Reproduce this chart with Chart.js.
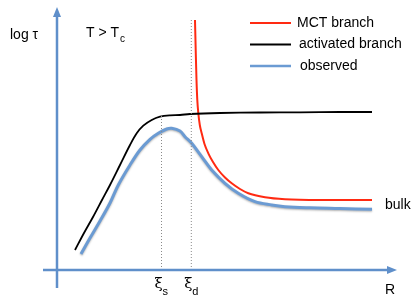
<html>
<head>
<style>
  body { margin: 0; background: #fff; }
</style>
</head>
<body>
<canvas id="myChart" width="415" height="301"></canvas>
<script src="https://cdn.jsdelivr.net/npm/chart.js"></script>
<script>
  // schematic: R along x, log tau along y (arbitrary units, origin where the axes cross)
  let activatedR   = [1.8, 2.7, 3.6, 4.5, 5.3, 6.3, 7.3, 7.97, 8.63, 9.47, 10.3, 11.3, 12.3, 13.3, 16.3, 20.3, 24.3, 28.3, 31.5];
  let activatedTau = [2.0, 3.7, 5.3, 7.0, 8.5, 10.5, 12.5, 13.67, 14.43, 15.0, 15.33, 15.47, 15.5, 15.6, 15.7, 15.75, 15.77, 15.8, 15.8];

  let observedR   = [2.4, 3.3, 4.3, 5.3, 6.13, 7.3, 8.3, 9.3, 10.13, 10.97, 11.47, 12.3, 12.8, 13.47, 14.47, 15.47, 16.8, 18.13, 19.8, 21.47, 22.8, 25.3, 28.3, 31.5];
  let observedTau = [1.6, 3.2, 4.9, 6.7, 8.5, 10.5, 12.0, 13.07, 13.67, 14.1, 14.17, 13.9, 13.33, 12.67, 11.33, 10.0, 8.67, 7.67, 6.83, 6.5, 6.33, 6.22, 6.15, 6.07];

  let mctR   = [13.8, 13.87, 13.95, 14.03, 14.13, 14.28, 14.47, 14.75, 15.13, 15.6, 16.13, 16.8, 17.47, 18.3, 19.13, 20.8, 22.8, 26.3, 31.5];
  let mctTau = [25.0, 22.0, 19.0, 17.0, 15.7, 14.5, 13.67, 12.6, 11.67, 10.8, 10.0, 9.25, 8.67, 8.1, 7.67, 7.27, 7.07, 7.0, 7.0];

  // the two length scales marked on the R axis, and where their guide lines stop
  let xiR   = [10.45, 13.43];
  let xiTop = [15.4, 25.0];
  let xiNames = ['s', 'd'];

  let seriesNames = ['MCT branch', 'activated branch', 'observed'];
  let seriesColors = ['#ff2a12', '#000000', '#6b9bd3'];

  function pts(xs, ys) {
    return xs.map(function(x, i) { return {x: x, y: ys[i]}; });
  }

  let datasets = [
    { label: 'activated', data: pts(activatedR, activatedTau), borderColor: seriesColors[1], borderWidth: 1.8, tension: 0.35 },
    { label: 'observed', data: pts(observedR, observedTau), borderColor: seriesColors[2], borderWidth: 3, tension: 0.35 },
    { label: 'mct', data: pts(mctR, mctTau), borderColor: seriesColors[0], borderWidth: 2, cubicInterpolationMode: 'monotone' }
  ];
  xiR.forEach(function(x, i) {
    datasets.unshift({ label: 'xi' + xiNames[i], data: [{x: x, y: 0}, {x: x, y: xiTop[i]}],
      borderColor: '#8a8a8a', borderWidth: 1, borderDash: [1, 2], tension: 0 });
  });
  datasets.forEach(function(d) {
    d.showLine = true;
    d.pointRadius = 0;
    d.fill = false;
  });

  // soft shadow under the observed curve, like the original drawing
  let shadow = {
    id: 'shadow',
    beforeDatasetDraw: function(chart, args) {
      if (chart.data.datasets[args.index].label === 'observed') {
        chart.ctx.save();
        chart.ctx.shadowColor = 'rgba(0,0,0,0.3)';
        chart.ctx.shadowBlur = 2;
        chart.ctx.shadowOffsetY = 1;
      }
    },
    afterDatasetDraw: function(chart, args) {
      if (chart.data.datasets[args.index].label === 'observed') chart.ctx.restore();
    }
  };

  let decor = {
    id: 'decor',
    afterDraw: function(chart) {
      let ctx = chart.ctx;
      let xs = chart.scales.x, ys = chart.scales.y;
      let X = function(v) { return xs.getPixelForValue(v); };
      let Y = function(v) { return ys.getPixelForValue(v); };
      ctx.save();

      // axes with arrow heads
      ctx.strokeStyle = '#5f8fca';
      ctx.fillStyle = '#5f8fca';
      ctx.lineWidth = 2.5;
      ctx.beginPath();
      ctx.moveTo(X(0), Y(-1.8)); ctx.lineTo(X(0), Y(25.6));
      ctx.moveTo(X(-1.4), Y(0)); ctx.lineTo(X(33.3), Y(0));
      ctx.stroke();
      ctx.beginPath();
      ctx.moveTo(X(0), Y(26.3)); ctx.lineTo(X(0) - 4, Y(25.3)); ctx.lineTo(X(0) + 4, Y(25.3)); ctx.closePath();
      ctx.fill();
      ctx.beginPath();
      ctx.moveTo(X(34.0), Y(0)); ctx.lineTo(X(33.0), Y(0) - 4); ctx.lineTo(X(33.0), Y(0) + 4); ctx.closePath();
      ctx.fill();

      // text
      let font = '14px "Liberation Sans", Arial, sans-serif';
      ctx.fillStyle = '#000';
      ctx.textBaseline = 'middle';
      ctx.font = font;
      ctx.fillText('log \u03c4', 10, 35);
      ctx.fillText('T > T', 86, 33);
      let w = ctx.measureText('T > T').width;
      ctx.font = '10px "Liberation Sans", Arial, sans-serif';
      ctx.fillText('c', 86 + w + 1, 39);
      ctx.font = font;
      ctx.fillText('bulk', 385, 205);
      ctx.fillText('R', 385, 290);
      xiR.forEach(function(x, i) {
        let px = X(x);
        ctx.font = '15px "DejaVu Serif", serif';
        ctx.fillText('\u03be', px - 7, 284);
        ctx.font = '11px "Liberation Sans", Arial, sans-serif';
        ctx.fillText(xiNames[i], px + 1, 292);
      });

      // legend
      ctx.font = font;
      let textX = [297, 299, 300];
      seriesNames.forEach(function(name, i) {
        let y = 23 + i * 21.5;
        ctx.strokeStyle = seriesColors[i];
        ctx.lineWidth = i === 2 ? 2.5 : 2;
        ctx.beginPath();
        ctx.moveTo(250, y); ctx.lineTo(291, y);
        ctx.stroke();
        ctx.fillStyle = '#000';
        ctx.fillText(name, textX[i], y);
      });
      ctx.restore();
    }
  };

  let config = {
    type: 'scatter',
    data: { datasets: datasets },
    options: {
      responsive: false,
      animation: false,
      layout: { padding: 0 },
      plugins: { legend: { display: false }, tooltip: { enabled: false } },
      scales: {
        x: { type: 'linear', min: -5.7, max: 35.8, display: false },
        y: { type: 'linear', min: -3.1, max: 27.0, display: false }
      }
    },
    plugins: [shadow, decor]
  };

  let myChart = new Chart(document.getElementById('myChart'), config);
</script>
</body>
</html>
